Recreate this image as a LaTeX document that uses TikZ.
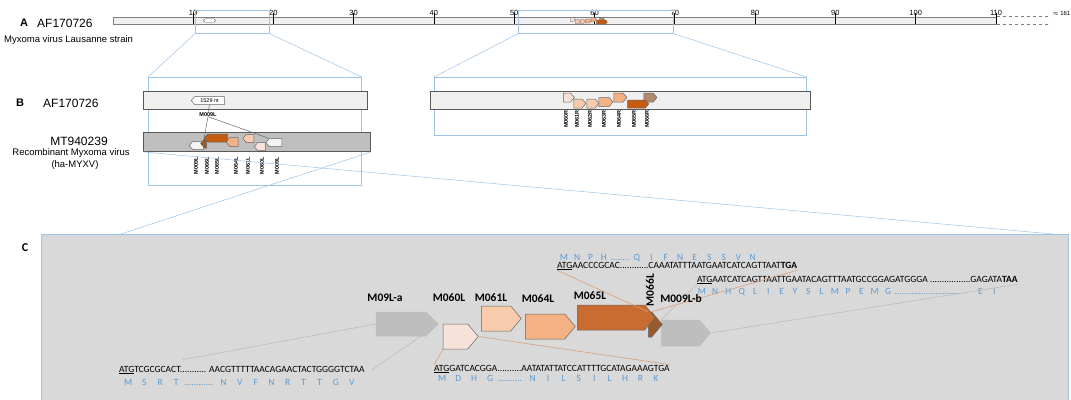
\documentclass[tikz,border=0pt]{standalone}
\usepackage{fontspec}
\setmainfont{Liberation Sans}
\newfontfamily\calibrifont{Carlito}
\usetikzlibrary{shapes.symbols, positioning, calc}
\definecolor{ZoomBlue}{HTML}{9DC3E6}
\definecolor{BarGray}{HTML}{EFEFEF}
\definecolor{BarEdge}{HTML}{7F7F7F}
\definecolor{RecombGray}{HTML}{BFBFBF}
\definecolor{PanelGray}{HTML}{D9D9D9}
\definecolor{GeneGray}{HTML}{BEBEBE}
\definecolor{GeneWhite}{HTML}{F4F4F4}
\definecolor{AminoBlue}{HTML}{5B9BD5}
\definecolor{PeachPale}{HTML}{F6E2D8}
\definecolor{PeachLight}{HTML}{F8CBAD}
\definecolor{PeachMid}{HTML}{F4B183}
\definecolor{RustOrange}{HTML}{C55A11}
\definecolor{RustSoft}{HTML}{C86C32}
\definecolor{RustBrown}{HTML}{995A2E}
\definecolor{TanBrown}{HTML}{B08A6E}
\definecolor{LinkOrange}{HTML}{D7A079}
\newcommand{\aaseq}[2]{\foreach \aaletter in {#2}{\makebox[#1]{\aaletter}}}
\tikzset{
    % Genome bars and zoom frames
    genome bar/.style={
        rectangle,
        draw=BarEdge,
        fill=BarGray,
        line width=0.6pt,
        inner sep=0pt
    },
    sample bar/.style={
        genome bar,
        draw=black!65,
        line width=0.9pt
    },
    zoom box/.style={
        rectangle,
        draw=ZoomBlue,
        line width=0.7pt,
        inner sep=0pt
    },
    zoom line/.style={
        ZoomBlue,
        line width=0.5pt
    },
    % Gene arrows
    gene/.style={
        signal,
        signal pointer angle=100,
        draw=black!60,
        line width=0.5pt,
        inner sep=0pt
    },
    gene right/.style={gene, signal to=east},
    gene left/.style={gene, signal to=west},
    % Texts
    panel letter/.style={
        font=\bfseries\fontsize{11}{11}\selectfont,
        inner sep=0pt
    },
    genome name/.style={
        font=\fontsize{12}{12}\selectfont,
        inner sep=0pt
    },
    strain text/.style={
        font=\fontsize{9.5}{9.5}\selectfont,
        inner sep=0pt
    },
    tick label/.style={
        font=\fontsize{7.5}{7.5}\selectfont,
        inner sep=0pt,
        anchor=south
    },
    gene tag/.style={
        font=\bfseries\fontsize{5.5}{5.5}\selectfont,
        rotate=90,
        anchor=east,
        inner sep=0pt
    },
    small tag/.style={
        font=\bfseries\fontsize{5.5}{5.5}\selectfont,
        inner sep=0pt
    },
    gene title/.style={
        font=\calibrifont\bfseries\fontsize{11.5}{11.5}\selectfont,
        inner sep=0pt
    },
    dna/.style={
        font=\calibrifont\fontsize{9.5}{9.5}\selectfont,
        inner sep=0pt,
        anchor=base west
    },
    amino/.style={
        dna,
        text=AminoBlue
    },
    link gray/.style={
        draw=gray!55,
        line width=0.5pt
    },
    link orange/.style={
        draw=LinkOrange,
        line width=0.6pt
    },
    link dark/.style={
        draw=black!60,
        line width=0.5pt
    }
}
\begin{document}
\begin{tikzpicture}[x=1pt, y=-1pt]
        \useasboundingbox (0,0) rectangle (1071,399);

        % Panel A: full genome
        \node[panel letter] (lettera) at (24,23) {A};
        \node[genome name, anchor=west] (namea) at (37,23) {AF170726};
        \node[strain text, anchor=west] (straina) at (4,40) {Myxoma virus Lausanne strain};
        \node[genome bar, minimum width=883.3pt, minimum height=7pt, anchor=west] (genome) at (112.7,20.5) {};
        \draw[BarEdge, dashed, line width=0.6pt] (genome.north east) -- ++(54,0) (genome.south east) -- ++(54,0);
        \node[tick label, anchor=south east, font=\fontsize{6}{6}\selectfont] (genomeend) at (1070.5,16) {$\approx$ 161};
        \foreach \kb in {10,20,...,110}
            \draw[line width=0.7pt] (112.7+\kb*8.03,13) -- (112.7+\kb*8.03,24) node[tick label] at (112.7+\kb*8.03,16) {\kb};

        % Genes on the full genome
        \node[draw=black!60, fill=white, rounded corners=1.5pt, minimum width=12pt, minimum height=3.5pt, inner sep=0pt] (smallgene) at (209.5,20.5) {};
        \node[gene right, fill=PeachPale, minimum width=5pt, minimum height=4pt, line width=0.3pt] (tiny60) at (572,19.5) {};
        \node[gene right, fill=PeachLight, minimum width=5pt, minimum height=4pt, line width=0.3pt] (tiny61) at (577,21.5) {};
        \node[gene right, fill=PeachLight, minimum width=5pt, minimum height=4pt, line width=0.3pt] (tiny62) at (582,21.5) {};
        \node[gene right, fill=PeachMid, minimum width=6pt, minimum height=4pt, line width=0.3pt] (tiny63) at (587.5,21) {};
        \node[gene right, fill=PeachMid, minimum width=5pt, minimum height=4pt, line width=0.3pt] (tiny64) at (593,19.5) {};
        \node[gene right, fill=TanBrown, minimum width=5pt, minimum height=4pt, line width=0.3pt] (tiny66) at (601,19.5) {};
        \node[gene right, fill=RustOrange, minimum width=11pt, minimum height=4pt, line width=0.3pt] (tiny65) at (601,22) {};

        % Zoom frames on panel A
        \node[zoom box, minimum width=74pt, minimum height=23pt, anchor=north west] (zoomone) at (195,10) {};
        \node[zoom box, minimum width=155pt, minimum height=23pt, anchor=north west] (zoomtwo) at (518,10) {};

        % Panel B: zoomed regions
        \node[panel letter] (letterb) at (20,103) {B};
        \node[genome name, anchor=west] (nameb) at (43,103) {AF170726};
        \node[genome name] (namerecomb) at (79,141) {MT940239};
        \node[strain text] (strainrecomb) at (71,153) {Recombinant Myxoma virus};
        \node[strain text] (strainmyxv) at (75,165) {(ha-MYXV)};

        \node[zoom box, minimum width=213pt, minimum height=108pt, anchor=north west] (frameleft) at (148,77) {};
        \node[zoom box, minimum width=372pt, minimum height=58pt, anchor=north west] (frameright) at (434,77) {};
        \draw[zoom line] (zoomone.south west) -- (frameleft.north west);
        \draw[zoom line] (zoomone.south east) -- (frameleft.north east);
        \draw[zoom line] (zoomtwo.south west) -- (frameright.north west);
        \draw[zoom line] (zoomtwo.south east) -- (frameright.north east);

        \node[sample bar, minimum width=224pt, minimum height=18pt, anchor=north west] (refleft) at (143,91) {};
        \node[sample bar, minimum width=380pt, minimum height=18pt, anchor=north west] (refright) at (430,91) {};
        \node[sample bar, fill=RecombGray, minimum width=227pt, minimum height=19pt, anchor=north west] (recomb) at (143,132) {};

        % Genes in the left region
        \node[gene left, fill=white, minimum width=33pt, minimum height=8pt, font=\fontsize{5.5}{5.5}\selectfont] (ntgene) at (209.5,100.5) {1529 nt};
        \node[small tag] (m009ltag) at (208,114.5) {M009L};
        \node[gene left, fill=GeneWhite, minimum width=14pt, minimum height=8pt] (m009lone) at (198,145.5) {};
        \node[gene left, fill=RustBrown, minimum width=6pt, minimum height=9pt] (m066lb) at (205.5,143.5) {};
        \node[gene left, fill=RustOrange, minimum width=23pt, minimum height=8pt] (m065lb) at (217.5,138) {};
        \node[gene left, fill=PeachMid, minimum width=12pt, minimum height=9pt] (m064lb) at (234,142) {};
        \node[gene left, fill=PeachLight, minimum width=11pt, minimum height=8pt] (m061lb) at (250,138.5) {};
        \node[gene left, fill=PeachPale, minimum width=11pt, minimum height=8pt] (m060lb) at (261.5,146.5) {};
        \node[gene left, fill=GeneWhite, minimum width=16pt, minimum height=8pt] (m009ltwo) at (275.5,142.5) {};
        \draw[link dark] (ntgene.south) -- (m009ltag.north);
        \draw[link dark] (m009ltag.south) -- (m009lone.north east);
        \draw[link dark] (m009ltag.south) -- (m009ltwo.north west);
        \foreach \xpos/\tag in {196/M009L, 207/M066L, 217/M065L, 236/M064L, 248/M061L, 262/M060L, 277/M009L}
            \node[gene tag] (tagl\xpos) at (\xpos,157) {\tag};

        % Genes in the right region
        \node[gene right, fill=PeachPale, minimum width=11pt, minimum height=9pt] (m060r) at (567,97.5) {};
        \node[gene right, fill=PeachLight, minimum width=12pt, minimum height=9pt] (m061r) at (578,103.5) {};
        \node[gene right, fill=PeachLight, minimum width=12pt, minimum height=9pt] (m062r) at (591,103.5) {};
        \node[gene right, fill=PeachMid, minimum width=14pt, minimum height=9pt] (m063r) at (604,102) {};
        \node[gene right, fill=PeachMid, minimum width=13pt, minimum height=9pt] (m064r) at (618.5,97.5) {};
        \node[gene right, fill=TanBrown, minimum width=13pt, minimum height=9pt] (m066r) at (648.5,97.5) {};
        \node[gene right, fill=RustOrange, minimum width=21pt, minimum height=8pt] (m065r) at (636.5,104) {};
        \foreach \xpos/\tag in {566/M060R, 577/M061R, 590/M062R, 604/M063R, 619/M064R, 634/M065R, 647/M066R}
            \node[gene tag] (tagr\xpos) at (\xpos,110) {\tag};

        % Panel C: junction sequences
        \node[panel letter, font=\calibrifont\bfseries\fontsize{12}{12}\selectfont] (letterc) at (25,248) {C};
        \node[draw=ZoomBlue, fill=PanelGray, line width=0.7pt, minimum width=1027pt, minimum height=175pt, inner sep=0pt, anchor=north west] (panelc) at (41,234) {};
        \draw[zoom line] (recomb.south west) -- ($(panelc.north east)+(-16,0)$);
        \draw[zoom line] (recomb.south east) -- ($(panelc.north west)+(80,0)$);

        % Sequences
        \node[dna] (seqa) at (119,372) {\underline{ATG}TCGCGCACT........... AACGTTTTTAACAGAACTACTGGGGTCTAA};
        \node[amino] (aminoa) at (120,385) {\aaseq{16pt}{M,S,R,T}............ \aaseq{16pt}{N,V,F,N,R,T,T,G,V}};
        \node[dna] (seqb) at (434,371) {\underline{ATG}GATCACGGA..........AATATATTATCCATTTTGCATAGAAAGTGA};
        \node[amino] (aminob) at (434,381) {\aaseq{16pt}{M,D,H,G}.......... \aaseq{15.4pt}{N,I,L,S,I,L,H,R,K}};
        \node[amino] (aminoc) at (557,260) {\aaseq{13.3pt}{M,N,P,H}........\aaseq{14.5pt}{Q,I,F,N,E,S,S,V,N}};
        \node[dna] (seqc) at (557,268) {\underline{ATG}AACCCGCAC............CAAATATTTAATGAATCATCAGTTAAT\textbf{TGA}};
        \node[dna] (seqd) at (697,282) {\underline{ATG}AATCATCAGTTAATTGAATACAGTTTAATGCCGGAGATGGGA .................GAGATA\textbf{TAA}};
        \node[amino] (aminod) at (695,294) {\aaseq{13.3pt}{M,N,H,Q,L,I,E,Y,S,L,M,P,E,M,G}...........................\hspace{14pt}\aaseq{14pt}{E,I}};

        % Gene arrows
        \node[gene right, draw=GeneGray, fill=GeneGray, minimum width=62pt, minimum height=24pt, signal pointer angle=90] (m09la) at (401,324) {};
        \node[gene right, fill=PeachPale, minimum width=35pt, minimum height=25pt] (m060l) at (455.5,336.5) {};
        \node[gene right, fill=PeachLight, minimum width=40pt, minimum height=25pt] (m061l) at (496,318.5) {};
        \node[gene right, fill=PeachMid, minimum width=50pt, minimum height=25pt] (m064l) at (545,326.5) {};
        \node[gene right, draw=GeneGray, fill=GeneGray, minimum width=49pt, minimum height=26pt] (m009lb) at (680.5,333) {};
        \node[gene right, fill=RustBrown, minimum width=14pt, minimum height=25pt] (m066l) at (650,324.5) {};
        \node[gene right, fill=RustSoft, minimum width=78pt, minimum height=25pt] (m065l) at (611,317.5) {};

        % Connectors to the sequences
        \draw[link gray] (m09la.west) -- ($(seqa.north west)+(64,-6)$);
        \draw[link gray] (m09la.east) -- ($(seqa.east)+(7,0)$);
        \draw[link orange] (m060l.south west) -- (seqb.north west);
        \draw[link orange] (m060l.east) -- (seqb.north east);
        \draw[link orange] (seqc.south west) -- (m066l.north west);
        \draw[link orange] (m066l.north east) -- (seqc.south east);
        \draw[link gray] (m009lb.north west) -- (seqd.south west);
        \draw[link gray] (m009lb.east) -- (seqd.south east);

        % Gene names
        \node[gene title] (titlea) at (385,298) {M09L-a};
        \node[gene title] (title60) at (449,298) {M060L};
        \node[gene title] (title61) at (491,298) {M061L};
        \node[gene title] (title64) at (538,299) {M064L};
        \node[gene title] (title65) at (590,296) {M065L};
        \node[gene title, rotate=90] (title66) at (650,290) {M066L};
        \node[gene title] (titleb) at (681,299) {M009L-b};
    \end{tikzpicture}
\end{document}
